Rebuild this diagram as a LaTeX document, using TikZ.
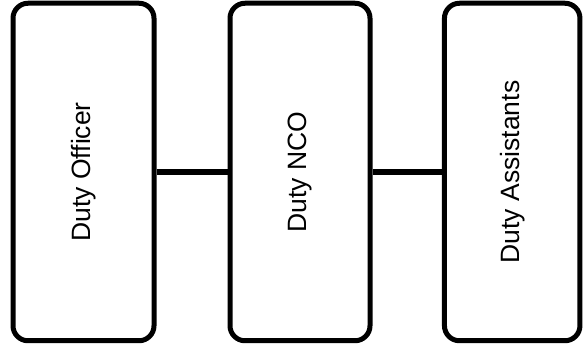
\documentclass[tikz,border=0pt]{standalone}
\usepackage{fontspec}
\setmainfont{Liberation Sans}
\begin{document}
\begin{tikzpicture}[x=1pt,y=-1pt,
  dutybox/.style={draw,line width=5pt,rounded corners=15pt,minimum height=337.5pt,
    inner sep=0pt,font=\fontsize{26.5}{30}\selectfont},
  link/.style={line width=5.5pt}]
\useasboundingbox (0,0) rectangle (584,352);
\node[dutybox,minimum width=141pt] (officer) at (83.5,172) {\rotatebox{90}{Duty Officer}};
\node[dutybox,minimum width=140pt] (nco) at (300,172) {\rotatebox{90}{Duty NCO}};
\node[dutybox,minimum width=135.5pt] (assist) at (512.2,172) {\rotatebox{90}{Duty Assistants}};
\draw[link] (officer.east) -- (nco.west);
\draw[link] (nco.east) -- (assist.west);
\end{tikzpicture}
\end{document}
